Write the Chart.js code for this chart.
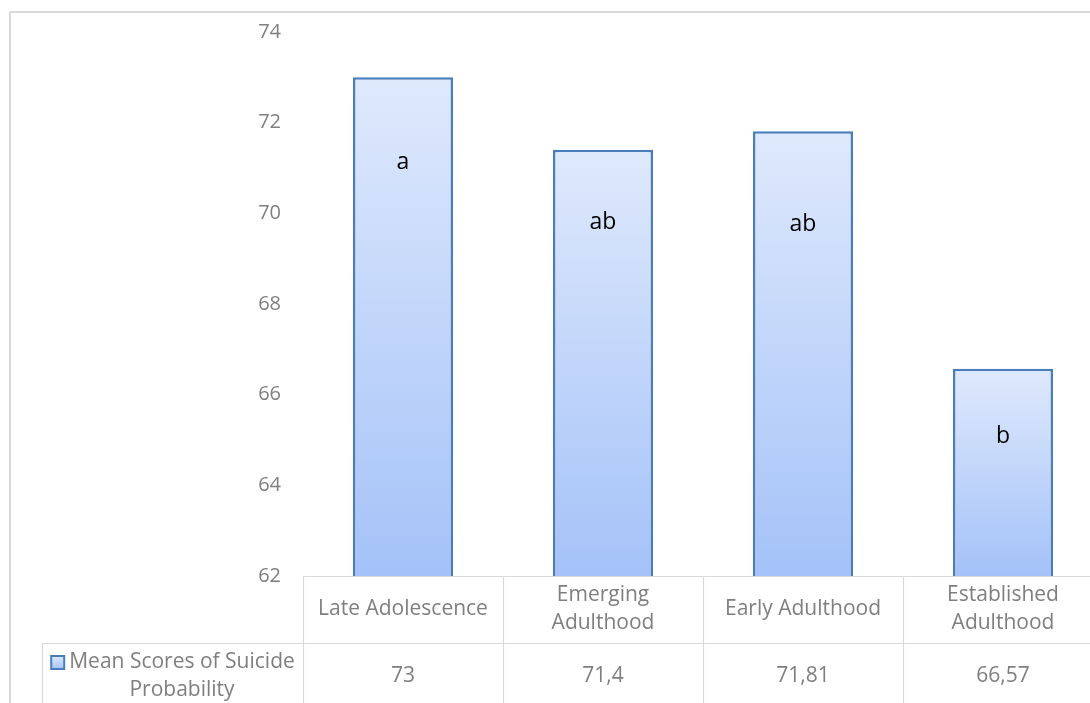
<!DOCTYPE html>
<html lang="en">
<head>
  <meta charset="UTF-8">
  <title>Mean Scores of Suicide Probability</title>
  <script src="https://cdn.jsdelivr.net/npm/chart.js"></script>
  <style>
    body {
      margin: 0;
      padding: 0;
      background: #fff;
      overflow: hidden;
    }
    canvas {
      display: block;
    }
  </style>
</head>
<body>

<canvas id="scoreChart" width="1120" height="703"></canvas>

<script>
  // age groups, each label split into the lines shown in the table
  const groups = [
    ['Late Adolescence'],
    ['Emerging', 'Adulthood'],
    ['Early Adulthood'],
    ['Established', 'Adulthood']
  ];
  const meanScores = [73, 71.4, 71.81, 66.57];
  const seriesName = ['Mean Scores of Suicide', 'Probability'];

  // significance letters and the value-axis level they sit at
  const letters = ['a', 'ab', 'ab', 'b'];
  const letterLevel = [71.13, 69.8, 69.76, 65.07];

  const yMin = 62, yMax = 74, yStep = 2;

  const FONT = '"Open Sans", sans-serif';
  const GRAY_TEXT = '#7f7f7f';
  const LINE = '#d9d9d9';

  // outer frame + data table under the bars
  const tablePlugin = {
    id: 'dataTable',
    beforeDraw(chart) {
      const c = chart.ctx;
      const area = chart.chartArea;
      const x = chart.scales.x;
      const half = (x.getPixelForValue(1) - x.getPixelForValue(0)) / 2;
      const rowTop = area.bottom;
      const rowMid = rowTop + 67;
      const keyLeft = 42;

      c.save();
      c.strokeStyle = LINE;
      c.lineWidth = 2;
      c.strokeRect(10, 12, chart.width, chart.height);

      c.lineWidth = 1.2;
      c.beginPath();
      c.moveTo(area.left, rowTop + 0.5);
      c.lineTo(chart.width, rowTop + 0.5);
      c.moveTo(keyLeft, rowMid + 0.5);
      c.lineTo(chart.width, rowMid + 0.5);
      c.moveTo(keyLeft + 0.5, rowMid);
      c.lineTo(keyLeft + 0.5, chart.height);
      for (let i = 0; i <= groups.length; i++) {
        const px = Math.round(x.getPixelForValue(i) - half) + 0.5;
        c.moveTo(px, rowTop);
        c.lineTo(px, chart.height);
      }
      c.stroke();

      c.fillStyle = GRAY_TEXT;
      c.font = '21px ' + FONT;
      c.textAlign = 'center';
      c.textBaseline = 'middle';

      groups.forEach((lines, i) => {
        const cx = x.getPixelForValue(i);
        const y0 = rowTop + 33 - (lines.length - 1) * 14;
        lines.forEach((ln, j) => c.fillText(ln, cx, y0 + j * 28));
        c.fillText(String(meanScores[i]).replace('.', ','), cx, rowMid + 33);
      });

      // legend key cell
      const textCx = 182;
      seriesName.forEach((ln, j) => c.fillText(ln, textCx, rowMid + 19 + j * 28));
      const w1 = c.measureText(seriesName[0]).width;
      const kx = textCx - w1 / 2 - 18;
      const ky = rowMid + 13;
      const g = c.createLinearGradient(0, ky, 0, ky + 13);
      g.addColorStop(0, '#dfe9fc');
      g.addColorStop(1, '#a4c2f8');
      c.fillStyle = g;
      c.fillRect(kx, ky, 13, 13);
      c.strokeStyle = '#4a7ebb';
      c.lineWidth = 2;
      c.strokeRect(kx, ky, 13, 13);
      c.restore();
    },
    afterDatasetsDraw(chart) {
      const c = chart.ctx;
      const meta = chart.getDatasetMeta(0);
      const y = chart.scales.y;
      c.save();
      c.fillStyle = '#000';
      c.font = '23px ' + FONT;
      c.textAlign = 'center';
      c.textBaseline = 'middle';
      letters.forEach((t, i) => {
        c.fillText(t, meta.data[i].x, y.getPixelForValue(letterLevel[i]));
      });
      c.restore();
    }
  };

  const ctx = document.getElementById('scoreChart').getContext('2d');

  new Chart(ctx, {
    type: 'bar',
    data: {
      labels: groups,
      datasets: [{
        label: seriesName.join(' '),
        data: meanScores,
        backgroundColor(context) {
          const chart = context.chart;
          const area = chart.chartArea;
          if (!area) return '#c0d5fa';
          const top = chart.scales.y.getPixelForValue(context.raw);
          const g = chart.ctx.createLinearGradient(0, top, 0, area.bottom);
          g.addColorStop(0, '#dfe9fc');
          g.addColorStop(1, '#a4c2f8');
          return g;
        },
        borderColor: '#4a7ebb',
        borderWidth: 2.5,
        borderSkipped: 'start',
        categoryPercentage: 1,
        barPercentage: 0.5
      }]
    },
    options: {
      responsive: false,
      animation: false,
      layout: {
        padding: { left: 0, right: 17, top: 32, bottom: 127 }
      },
      scales: {
        x: {
          display: false
        },
        y: {
          min: yMin,
          max: yMax,
          afterFit(scale) {
            // fixed axis width, no extra room for the end labels
            scale.width = 303;
            scale.paddingTop = 0;
            scale.paddingBottom = 0;
          },
          grid: { display: false, drawTicks: false },
          border: { display: false },
          ticks: {
            stepSize: yStep,
            padding: 22,
            color: GRAY_TEXT,
            font: { size: 20, family: FONT }
          }
        }
      },
      plugins: {
        legend: { display: false },
        tooltip: { enabled: false }
      }
    },
    plugins: [tablePlugin]
  });
</script>

</body>
</html>
